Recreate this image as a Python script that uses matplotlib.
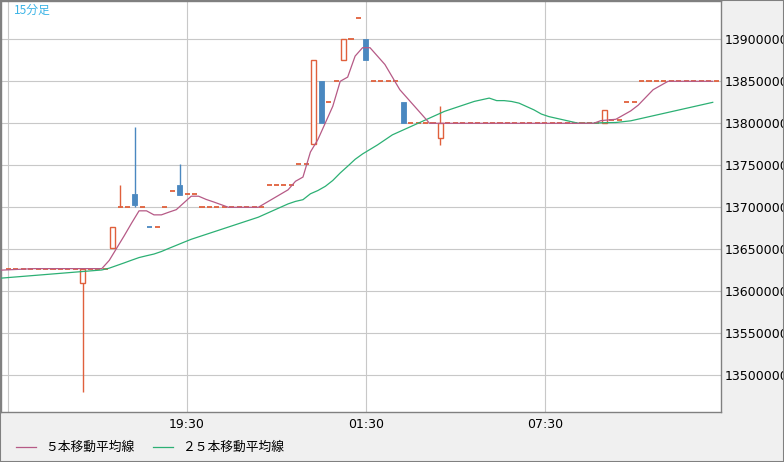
import numpy as np
import pandas as pd
import matplotlib
matplotlib.use("Agg")
import matplotlib.pyplot as plt
from matplotlib.patches import Rectangle
from matplotlib.lines import Line2D

plt.rcParams['font.family'] = ['DejaVu Sans', 'Noto Sans CJK JP']

# 15-minute bars, prices in thousand yen, bar 0 = 13:30
# closes before the visible window (only used for the moving averages)
prior_close_k = [13609, 13609, 13609, 13609, 13609, 13609, 13609, 13609, 13609, 13609,
                 13609, 13609, 13609, 13609, 13622, 13622, 13622, 13622, 13622, 13622,
                 13625, 13625, 13625, 13625, 13625]

open_k = [13627, 13627, 13627, 13627, 13627, 13627, 13627, 13627, 13627, 13627,
          13610, 13627, 13627, 13627, 13652, 13700, 13700, 13716, 13700, 13677,
          13676, 13700, 13719, 13726, 13716, 13716, 13700, 13700, 13700, 13700,
          13700, 13700, 13700, 13700, 13700, 13726, 13726, 13726, 13726, 13751,
          13751, 13775, 13850, 13825, 13850, 13875, 13900, 13925, 13900, 13850,
          13850, 13850, 13850, 13825, 13800, 13800, 13800, 13800, 13782, 13800,
          13800, 13800, 13800, 13800, 13800, 13800, 13800, 13800, 13800, 13800,
          13800, 13800, 13800, 13800, 13800, 13800, 13800, 13800, 13800, 13800,
          13800, 13804, 13804, 13825, 13825, 13850, 13850, 13850, 13850, 13850,
          13850, 13850, 13850, 13850, 13850, 13850]

high_k = [13627, 13627, 13627, 13627, 13627, 13627, 13627, 13627, 13627, 13627,
          13627, 13627, 13627, 13627, 13676, 13726, 13700, 13796, 13700, 13677,
          13676, 13700, 13719, 13752, 13716, 13716, 13700, 13700, 13700, 13700,
          13700, 13700, 13700, 13700, 13700, 13726, 13726, 13726, 13726, 13751,
          13751, 13875, 13850, 13825, 13850, 13900, 13900, 13925, 13900, 13850,
          13850, 13850, 13850, 13825, 13800, 13800, 13800, 13800, 13820, 13800,
          13800, 13800, 13800, 13800, 13800, 13800, 13800, 13800, 13800, 13800,
          13800, 13800, 13800, 13800, 13800, 13800, 13800, 13800, 13800, 13800,
          13816, 13804, 13804, 13825, 13825, 13850, 13850, 13850, 13850, 13850,
          13850, 13850, 13850, 13850, 13850, 13850]

low_k = [13627, 13627, 13627, 13627, 13627, 13627, 13627, 13627, 13627, 13627,
         13480, 13627, 13627, 13627, 13652, 13700, 13700, 13700, 13700, 13676,
         13676, 13700, 13719, 13715, 13716, 13716, 13700, 13700, 13700, 13700,
         13700, 13700, 13700, 13700, 13700, 13726, 13726, 13726, 13726, 13751,
         13751, 13775, 13800, 13825, 13850, 13875, 13900, 13925, 13875, 13850,
         13850, 13850, 13850, 13800, 13800, 13800, 13800, 13800, 13774, 13800,
         13800, 13800, 13800, 13800, 13800, 13800, 13800, 13800, 13800, 13800,
         13800, 13800, 13800, 13800, 13800, 13800, 13800, 13800, 13800, 13800,
         13800, 13804, 13804, 13825, 13825, 13850, 13850, 13850, 13850, 13850,
         13850, 13850, 13850, 13850, 13850, 13850]

close_k = [13627, 13627, 13627, 13627, 13627, 13627, 13627, 13627, 13627, 13627,
           13627, 13627, 13627, 13627, 13676, 13700, 13700, 13703, 13700, 13676,
           13676, 13700, 13719, 13715, 13716, 13716, 13700, 13700, 13700, 13700,
           13700, 13700, 13700, 13700, 13700, 13726, 13726, 13726, 13726, 13751,
           13751, 13875, 13800, 13825, 13850, 13900, 13900, 13925, 13875, 13850,
           13850, 13850, 13850, 13800, 13800, 13800, 13800, 13800, 13800, 13800,
           13800, 13800, 13800, 13800, 13800, 13800, 13800, 13800, 13800, 13800,
           13800, 13800, 13800, 13800, 13800, 13800, 13800, 13800, 13800, 13800,
           13816, 13804, 13804, 13825, 13825, 13850, 13850, 13850, 13850, 13850,
           13850, 13850, 13850, 13850, 13850, 13850]

time_ticks = [0, 24, 48, 72]
time_labels = ['', '19:30', '01:30', '07:30']
price_ticks = [13500000, 13550000, 13600000, 13650000, 13700000,
               13750000, 13800000, 13850000, 13900000]

title = '15分足'
ma_names = ['５本移動平均線', '２５本移動平均線']

UP = '#e0603c'
DOWN = '#4a88c0'
MA5_C = '#b65a86'
MA25_C = '#2cb074'
GRID = '#c8c8c8'
FRAME = '#808080'
BG = '#f0f0f0'

o = np.array(open_k) * 1000
h = np.array(high_k) * 1000
l = np.array(low_k) * 1000
c = np.array(close_k) * 1000

all_close = pd.Series(np.concatenate([np.array(prior_close_k) * 1000, c]))
n_prior = len(prior_close_k)
ma5 = all_close.rolling(5).mean().to_numpy()[n_prior - 1:]
ma25 = all_close.rolling(25).mean().to_numpy()[n_prior - 1:]
ma_x = np.arange(-1, len(c)) - 0.45

fig = plt.figure(figsize=(7.84, 4.62), dpi=100, facecolor=BG)
ax = fig.add_axes([1 / 784, 50 / 462, 720 / 784, 411 / 462])
ax.set_facecolor('white')

w = 0.68
for i in range(len(c)):
    up = c[i] >= o[i]
    col = UP if up else DOWN
    top = max(o[i], c[i])
    bot = min(o[i], c[i])
    if h[i] > top:
        ax.vlines(i, top, h[i], color=col, lw=1.0, zorder=3)
    if l[i] < bot:
        ax.vlines(i, l[i], bot, color=col, lw=1.0, zorder=3)
    if top - bot < 2000:
        ax.hlines(c[i], i - w / 2, i + w / 2, color=col, lw=1.3, zorder=3)
    elif up:
        ax.add_patch(Rectangle((i - w / 2, bot), w, top - bot, facecolor='white',
                               edgecolor=col, lw=1.0, zorder=3))
    else:
        ax.add_patch(Rectangle((i - w / 2, bot), w, top - bot, facecolor=col,
                               edgecolor=col, lw=0.6, zorder=3))

ax.plot(ma_x, ma25, color=MA25_C, lw=0.9, zorder=4)
ax.plot(ma_x, ma5, color=MA5_C, lw=0.9, zorder=5)

ax.set_xlim(-0.98, 95.66)
ax.set_ylim(13456310, 13945595)

ax.set_xticks(time_ticks)
ax.set_xticklabels(time_labels)
ax.set_yticks(price_ticks)
ax.set_yticklabels([str(p) for p in price_ticks])
ax.yaxis.tick_right()
ax.tick_params(axis='y', length=0, pad=2.5, labelsize=9)
ax.tick_params(axis='x', length=0, pad=4, labelsize=9)
ax.grid(True, color=GRID, lw=0.8, zorder=0)
ax.set_axisbelow(True)
for s in ax.spines.values():
    s.set_color(FRAME)
    s.set_linewidth(1.0)

ax.text(13 / 720, 1 - 9 / 411, title, transform=ax.transAxes, ha='left', va='center',
        color='#3cb4e6', fontsize=8.5, family=['Noto Sans CJK JP', 'DejaVu Sans'])

# legend along the bottom
for (x0, x1, tx), name, col in zip([(16, 36, 45), (153, 173, 182)], ma_names, [MA5_C, MA25_C]):
    fig.add_artist(Line2D([x0 / 784, x1 / 784], [1 - 447 / 462] * 2, color=col, lw=0.9))
    fig.text(tx / 784, 1 - 447 / 462, name, ha='left', va='center', fontsize=9.2,
             family=['Noto Sans CJK JP', 'DejaVu Sans'])

fig.add_artist(Rectangle((0, 0), 1, 1, transform=fig.transFigure, fill=False,
                         edgecolor=FRAME, lw=1.5))

fig.savefig('out.png', dpi=100, facecolor=BG)
